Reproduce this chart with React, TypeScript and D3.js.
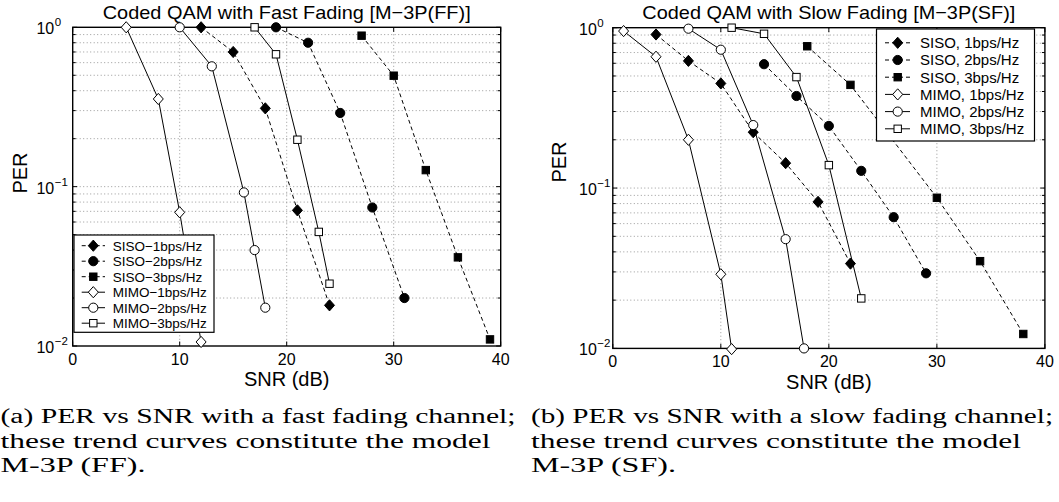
import React from 'react';
import * as d3 from 'd3';

// ---------- data ----------
const xTicks = [0, 10, 20, 30, 40];
const yDecades = [-2, -1, 0];

// Fast fading (M-3P FF)
const ffSiso1Snr = [12, 15, 18, 21, 24];
const ffSiso1Per = [1.0, 0.70, 0.31, 0.071, 0.018];
const ffSiso2Snr = [19, 22, 25, 28, 31];
const ffSiso2Per = [1.0, 0.80, 0.29, 0.074, 0.020];
const ffSiso3Snr = [27, 30, 33, 36, 39];
const ffSiso3Per = [0.886, 0.497, 0.127, 0.036, 0.011];
const ffMimo1Snr = [5, 8, 10, 12];
const ffMimo1Per = [1.0, 0.355, 0.069, 0.0106];
const ffMimo2Snr = [10, 13, 16, 17, 18];
const ffMimo2Per = [1.0, 0.569, 0.092, 0.040, 0.0174];
const ffMimo3Snr = [17, 19, 21, 23, 24];
const ffMimo3Per = [1.0, 0.677, 0.197, 0.052, 0.0246];

// Slow fading (M-3P SF)
const sfSiso1Snr = [4, 7, 10, 13, 16, 19, 22];
const sfSiso1Per = [0.907, 0.621, 0.449, 0.223, 0.143, 0.082, 0.0338];
const sfSiso2Snr = [14, 17, 20, 23, 26, 29];
const sfSiso2Per = [0.592, 0.375, 0.244, 0.128, 0.0658, 0.0294];
const sfSiso3Snr = [18, 22, 30, 34, 38];
const sfSiso3Per = [0.766, 0.44, 0.087, 0.035, 0.0123];
const sfMimo1Snr = [1, 4, 7, 10, 11];
const sfMimo1Per = [0.953, 0.659, 0.2, 0.029, 0.0099];
const sfMimo2Snr = [7, 10, 13, 16, 17.7];
const sfMimo2Per = [0.986, 0.729, 0.247, 0.048, 0.01];
const sfMimo3Snr = [11, 14, 17, 20, 23];
const sfMimo3Per = [1.0, 0.916, 0.492, 0.139, 0.0205];

const ffLabels = ['SISO\u22121bps/Hz', 'SISO\u22122bps/Hz', 'SISO\u22123bps/Hz', 'MIMO\u22121bps/Hz', 'MIMO\u22122bps/Hz', 'MIMO\u22123bps/Hz'];
const sfLabels = ['SISO, 1bps/Hz', 'SISO, 2bps/Hz', 'SISO, 3bps/Hz', 'MIMO, 1bps/Hz', 'MIMO, 2bps/Hz', 'MIMO, 3bps/Hz'];

const ffTitle = 'Coded QAM with Fast Fading [M\u22123P(FF)]';
const sfTitle = 'Coded QAM with Slow Fading [M\u22123P(SF)]';

const capA = ['(a) PER vs SNR with a fast fading channel;', 'these trend curves constitute the model', 'M-3P (FF).'];
const capB = ['(b) PER vs SNR with a slow fading channel;', 'these trend curves constitute the model', 'M-3P (SF).'];

// ---------- styling ----------
type Marker = 'diamond' | 'circle' | 'square';
interface Series { snr: number[]; per: number[]; marker: Marker; filled: boolean; dashed: boolean; }

const styles: { marker: Marker; filled: boolean; dashed: boolean }[] = [
  { marker: 'diamond', filled: true, dashed: true },
  { marker: 'circle', filled: true, dashed: true },
  { marker: 'square', filled: true, dashed: true },
  { marker: 'diamond', filled: false, dashed: false },
  { marker: 'circle', filled: false, dashed: false },
  { marker: 'square', filled: false, dashed: false },
];

const ffData: [number[], number[]][] = [
  [ffSiso1Snr, ffSiso1Per], [ffSiso2Snr, ffSiso2Per], [ffSiso3Snr, ffSiso3Per],
  [ffMimo1Snr, ffMimo1Per], [ffMimo2Snr, ffMimo2Per], [ffMimo3Snr, ffMimo3Per],
];
const sfData: [number[], number[]][] = [
  [sfSiso1Snr, sfSiso1Per], [sfSiso2Snr, sfSiso2Per], [sfSiso3Snr, sfSiso3Per],
  [sfMimo1Snr, sfMimo1Per], [sfMimo2Snr, sfMimo2Per], [sfMimo3Snr, sfMimo3Per],
];

const FONT = '"Liberation Sans", Arial, Helvetica, sans-serif';
const SERIF = '"Liberation Serif", "Times New Roman", serif';
const DASH = '4,3';

function MarkerShape({ x, y, m, filled, k = 1 }: { x: number; y: number; m: Marker; filled: boolean; k?: number }) {
  const fill = filled ? '#000' : '#fff';
  if (m === 'diamond') {
    const w = 5 * k, h = 5.6 * k;
    return <path d={`M${x},${y - h}L${x + w},${y}L${x},${y + h}L${x - w},${y}Z`} fill={fill} stroke="#000" strokeWidth={1} />;
  }
  if (m === 'circle') return <circle cx={x} cy={y} r={4.6 * k} fill={fill} stroke="#000" strokeWidth={1} />;
  const s = 3.7 * k;
  return <rect x={x - s} y={y - s} width={2 * s} height={2 * s} fill={fill} stroke="#000" strokeWidth={1} />;
}

interface ChartCfg {
  x0: number; x1: number; yTop: number; yBot: number;
  title: string; titleLen: number; titleY: number;
  data: [number[], number[]][];
  labels: string[];
  yLabelX: number; yLabelY: number; xLabelY: number;
  tickLabelY: number; yTickOff: number;
  legend: { x: number; y: number; w: number; h: number; row0: number; step: number; lx0: number; lx1: number; mx: number; tx: number; fs: number; k: number };
}

function Chart({ c }: { c: ChartCfg }) {
  const xs = d3.scaleLinear().domain([0, 40]).range([c.x0, c.x1]);
  const ys = d3.scaleLog().domain([0.01, 1]).range([c.yBot, c.yTop]);
  const line = d3.line<[number, number]>().x(d => xs(d[0])).y(d => ys(d[1]));

  const minorVals: number[] = [];
  [-2, -1].forEach(e => { for (let m = 1; m <= 9; m++) minorVals.push(m * Math.pow(10, e)); });
  const gridY = minorVals.filter(v => v > 0.0101);
  const series: Series[] = c.data.map((d, i) => ({ snr: d[0], per: d[1], ...styles[i] }));
  const L = c.legend;
  const cx = (c.x0 + c.x1) / 2;

  return (
    <g>
      {/* grid */}
      {xTicks.filter(t => t > 0 && t < 40).map(t => (
        <line key={'gx' + t} x1={xs(t)} x2={xs(t)} y1={c.yTop} y2={c.yBot} stroke="#808080" strokeWidth={0.8} strokeDasharray="1,2.5" />
      ))}
      {gridY.map(v => (
        <line key={'gy' + v} x1={c.x0} x2={c.x1} y1={ys(v)} y2={ys(v)} stroke="#808080" strokeWidth={0.8} strokeDasharray="1,2.5" />
      ))}
      {/* ticks */}
      {xTicks.map(t => (
        <g key={'tx' + t}>
          <line x1={xs(t)} x2={xs(t)} y1={c.yBot} y2={c.yBot - 4.5} stroke="#000" />
          <line x1={xs(t)} x2={xs(t)} y1={c.yTop} y2={c.yTop + 4.5} stroke="#000" />
          <text x={xs(t)} y={c.tickLabelY} textAnchor="middle" fontSize={16} fontFamily={FONT}>{t}</text>
        </g>
      ))}
      {minorVals.concat([1]).map(v => {
        const major = Math.abs(Math.log10(v) - Math.round(Math.log10(v))) < 1e-6;
        const len = major ? 4.5 : 3;
        return (
          <g key={'ty' + v}>
            <line x1={c.x0} x2={c.x0 + len} y1={ys(v)} y2={ys(v)} stroke="#000" />
            <line x1={c.x1} x2={c.x1 - len} y1={ys(v)} y2={ys(v)} stroke="#000" />
          </g>
        );
      })}
      {yDecades.map(e => (
        <g key={'yl' + e}>
          <text x={c.x0 - c.yTickOff} y={ys(Math.pow(10, e)) + 7} textAnchor="end" fontSize={16} fontFamily={FONT}>10</text>
          <text x={c.x0 - c.yTickOff + 0.5} y={ys(Math.pow(10, e)) - 1} fontSize={11.5} fontFamily={FONT}>{e === 0 ? '0' : '\u2212' + Math.abs(e)}</text>
        </g>
      ))}
      {/* frame */}
      <rect x={c.x0} y={c.yTop} width={c.x1 - c.x0} height={c.yBot - c.yTop} fill="none" stroke="#000" strokeWidth={1.4} />
      {/* series */}
      {series.map((s, i) => (
        <g key={'s' + i}>
          <path d={line(s.snr.map((x, j) => [x, s.per[j]] as [number, number])) || ''} fill="none" stroke="#000" strokeWidth={1} strokeDasharray={s.dashed ? DASH : undefined} />
          {s.snr.map((x, j) => <MarkerShape key={j} x={xs(x)} y={ys(s.per[j])} m={s.marker} filled={s.filled} />)}
        </g>
      ))}
      {/* labels */}
      <text x={cx} y={c.titleY} textAnchor="middle" fontSize={19} fontFamily={FONT} textLength={c.titleLen} lengthAdjust="spacingAndGlyphs">{c.title}</text>
      <text x={cx} y={c.xLabelY} textAnchor="middle" fontSize={20} fontFamily={FONT}>SNR (dB)</text>
      <text transform={`translate(${c.yLabelX},${c.yLabelY}) rotate(-90)`} textAnchor="middle" fontSize={20} fontFamily={FONT}>PER</text>
      {/* legend */}
      <rect x={L.x} y={L.y} width={L.w} height={L.h} fill="#fff" stroke="#000" strokeWidth={1.2} />
      {series.map((s, i) => {
        const yy = L.row0 + i * L.step;
        return (
          <g key={'lg' + i}>
            <line x1={L.lx0} x2={L.lx1} y1={yy} y2={yy} stroke="#000" strokeWidth={1} strokeDasharray={s.dashed ? DASH : undefined} />
            <MarkerShape x={L.mx} y={yy} m={s.marker} filled={s.filled} k={L.k} />
            <text x={L.tx} y={yy + L.fs * 0.36} fontSize={L.fs} fontFamily={FONT}>{c.labels[i]}</text>
          </g>
        );
      })}
    </g>
  );
}

const left: ChartCfg = {
  x0: 72.7, x1: 500.7, yTop: 27.3, yBot: 346,
  title: ffTitle, titleLen: 368, titleY: 18.5,
  data: ffData, labels: ffLabels,
  yLabelX: 27, yLabelY: 173, xLabelY: 386, tickLabelY: 365, yTickOff: 18.5,
  legend: { x: 74, y: 235, w: 140, h: 97.3, row0: 245.7, step: 15.5, lx0: 81.7, lx1: 105, mx: 93.3, tx: 112.7, fs: 13.5, k: 1 },
};
const right: ChartCfg = {
  x0: 612.8, x1: 1044.9, yTop: 27.7, yBot: 348.4,
  title: sfTitle, titleLen: 373, titleY: 18.5,
  data: sfData, labels: sfLabels,
  yLabelX: 565.5, yLabelY: 162, xLabelY: 389, tickLabelY: 367, yTickOff: 16,
  legend: { x: 876.5, y: 29, w: 158, h: 112, row0: 42.8, step: 17.2, lx0: 885, lx1: 910, mx: 897.7, tx: 920, fs: 15, k: 1 },
};

function Caption({ lines, x, lens }: { lines: string[]; x: number; lens: number[] }) {
  const base = [423.3, 448.3, 472.3];
  return (
    <g>
      {lines.map((t, i) => (
        <text key={i} x={x} y={base[i]} fontSize={20} fontFamily={SERIF} textLength={lens[i]} lengthAdjust="spacingAndGlyphs">{t}</text>
      ))}
    </g>
  );
}

export default function App() {
  return (
    <svg width={1059} height={502} style={{ position: 'absolute', left: 0, top: 0, background: '#fff' }} xmlns="http://www.w3.org/2000/svg">
      <rect x={0} y={0} width={1059} height={502} fill="#fff" />
      <Chart c={left} />
      <Chart c={right} />
      <Caption lines={capA} x={0.5} lens={[515, 490, 145]} />
      <Caption lines={capB} x={531} lens={[522, 490, 145]} />
    </svg>
  );
}
